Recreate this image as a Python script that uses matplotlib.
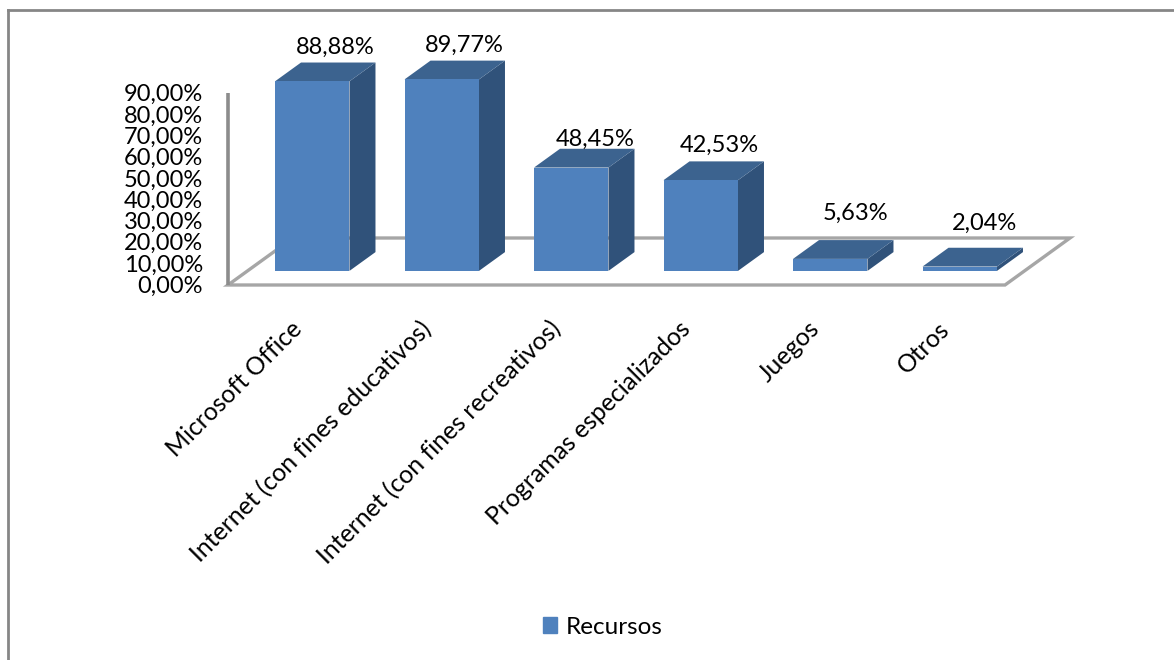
import matplotlib
matplotlib.use('Agg')
import matplotlib.pyplot as plt
from matplotlib.patches import Polygon, Patch

plt.rcParams['font.family'] = ['Lato', 'DejaVu Sans']

categories = ['Microsoft Office', 'Internet (con fines educativos)',
              'Internet (con fines recreativos)', 'Programas especializados',
              'Juegos', 'Otros']
values = [88.88, 89.77, 48.45, 42.53, 5.63, 2.04]
value_labels = ['88,88%', '89,77%', '48,45%', '42,53%', '5,63%', '2,04%']
y_ticks = [0, 10, 20, 30, 40, 50, 60, 70, 80, 90]
y_tick_labels = ['0,00%', '10,00%', '20,00%', '30,00%', '40,00%', '50,00%',
                 '60,00%', '70,00%', '80,00%', '90,00%']
series_name = 'Recursos'

W, H = 1174, 660
X0, Y0 = 228, 285      # pixel position of the floor's front left corner
X_UNIT = 129.5         # pixels per category
Y_UNIT = 2.133         # pixels per percentage point

FRONT = '#4F81BD'
TOP = '#3C638F'
SIDE = '#30527A'
GRID = '#A6A6A6'

fig = plt.figure(figsize=(W / 100, H / 100), dpi=100)
ax = fig.add_axes([0, 0, 1, 1])
ax.set_xlim(-X0 / X_UNIT, (W - X0) / X_UNIT)
ax.set_ylim(-(H - Y0) / Y_UNIT, Y0 / Y_UNIT)
ax.axis('off')

# oblique projection: the full floor depth shifts a point by this much
DEPTH_X = 65 / X_UNIT
DEPTH_Y = 47 / Y_UNIT


def proj(x, y, d):
    return (x + d * DEPTH_X, y + d * DEPTH_Y)


# floor and value axis
n = len(categories)
floor = [proj(0, 0, 0), proj(n, 0, 0), proj(n, 0, 1), proj(0, 0, 1)]
ax.add_patch(Polygon(floor, closed=True, fill=False, edgecolor=GRID, lw=2.4))
ax.plot([0, 0], [0, max(y_ticks)], color='#8C8C8C', lw=2.6, solid_capstyle='butt')

# bars
bar_w = 0.575
d_front, d_back = 0.3, 0.7
for i, v in enumerate(values):
    l = i + 0.5 - bar_w / 2
    r = i + 0.5 + bar_w / 2
    ax.add_patch(Polygon([proj(r, 0, d_front), proj(r, 0, d_back),
                          proj(r, v, d_back), proj(r, v, d_front)], color=SIDE, lw=0))
    ax.add_patch(Polygon([proj(l, v, d_front), proj(r, v, d_front),
                          proj(r, v, d_back), proj(l, v, d_back)], color=TOP, lw=0))
    ax.add_patch(Polygon([proj(l, 0, d_front), proj(r, 0, d_front),
                          proj(r, v, d_front), proj(l, v, d_front)], color=FRONT, lw=0))

# data labels, each nudged up from its bar top
label_lift = [34, 34, 28, 35, 46, 43]
label_shift = [23, 23, 24, 19, 25, 25]
for i, v in enumerate(values):
    x, y = proj(i + 0.5 + label_shift[i] / X_UNIT, v, d_front)
    ax.text(x, y + label_lift[i] / Y_UNIT, value_labels[i], ha='center', va='center',
            fontsize=17, color='black')

# value axis labels
for t, lab in zip(y_ticks, y_tick_labels):
    ax.text(-25 / X_UNIT, t - 1.5 / Y_UNIT, lab, ha='right', va='center', fontsize=17, color='black')

# rotated category labels
for i, lab in enumerate(categories):
    ax.text(i + 0.5 - 3 / X_UNIT, -32 / Y_UNIT, lab, rotation=45, rotation_mode='anchor',
            ha='right', va='top', fontsize=17.8, color='black')

leg = ax.legend(handles=[Patch(color=FRONT, label=series_name)], loc='center',
                bbox_to_anchor=(603 / W, 1 - 627 / H), bbox_transform=fig.transFigure,
                frameon=False, fontsize=17.5, handlelength=0.55, handleheight=0.6,
                handletextpad=0.37)

# chart border, open on the right and at the bottom
ax.plot([8 / X_UNIT - X0 / X_UNIT] * 2, [-(H - Y0) / Y_UNIT, (Y0 - 10) / Y_UNIT], color='#868686', lw=2)
ax.plot([8 / X_UNIT - X0 / X_UNIT, (W - X0) / X_UNIT], [(Y0 - 10) / Y_UNIT] * 2, color='#868686', lw=2)

fig.savefig('out.png', dpi=100)
